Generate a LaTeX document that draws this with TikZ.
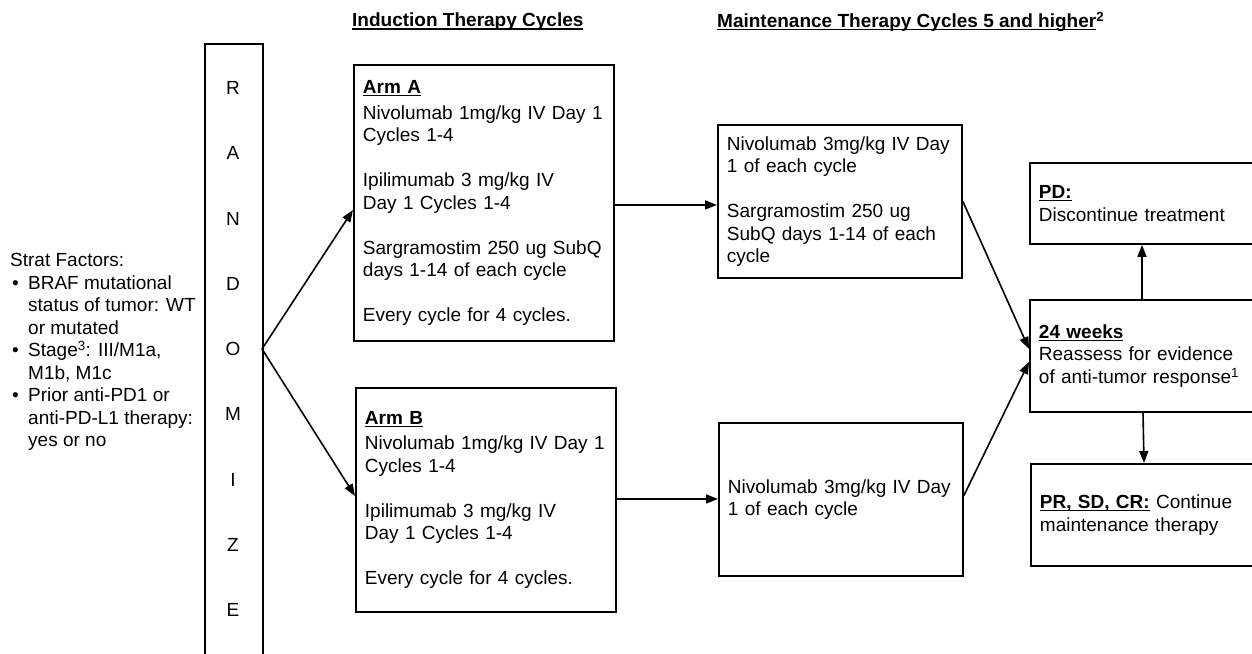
\documentclass[tikz,border=0pt]{standalone}
\usepackage{fontspec}
\setmainfont{Liberation Sans}
\usetikzlibrary{arrows.meta}
\newsavebox\ulbox
\newcommand\ulx[1]{\sbox\ulbox{#1}\rlap{\rule[-2.6pt]{\wd\ulbox}{1.3pt}}\usebox\ulbox}
\newcommand\fs{\fontsize{19}{22.5}\selectfont}
\newcommand\bul{\hspace*{2pt}\makebox[16pt][l]{•}}
\newcommand\ind{\hspace*{18pt}}
\begin{document}
\begin{tikzpicture}[x=1pt,y=-1pt,
  box/.style={draw, line width=1.9pt, anchor=north west, align=left, inner xsep=9pt, inner ysep=0pt, font=\fs},
  arr/.style={line width=1.6pt, -{Triangle[length=12pt,width=9pt]}},
  hd/.style={anchor=west, inner sep=0pt, font=\fs\bfseries}]
\useasboundingbox (0,0) rectangle (1252,653);

% headings
\node[hd] (t1) at (352,22) {\ulx{Induction Therapy Cycles}};
\node[hd] (t2) at (717,22) {\ulx{Maintenance Therapy Cycles 5 and higher}\textsuperscript{2}};

% randomize column
\node[draw, line width=1.9pt, anchor=north west, minimum width=58pt, minimum height=700pt, inner sep=0pt] (rand) at (204,43) {};
\foreach \l [count=\i from 0] in {R,A,N,D,O,M,I,Z,E}
  \node[font=\fs, inner sep=0pt] (r\i) at (233, 88+65.25*\i) {\l};

% strat factors
\node[anchor=west, inner sep=0pt, align=left, font=\fs] (strat) at (10,352)
  {Strat Factors:\\
   \bul BRAF mutational\\
   \ind status of tumor: WT\\
   \ind or mutated\\
   \bul Stage\textsuperscript{3}: III/M1a,\\
   \ind M1b, M1c\\
   \bul Prior anti-PD1 or\\
   \ind anti-PD-L1 therapy:\\
   \ind yes or no};

% induction arms
\node[box, text width=242pt, minimum height=276pt] (armA) at (353,64)
  {\textbf{\ulx{Arm A}}\\[3pt]
   Nivolumab 1mg/kg IV Day 1\\
   Cycles 1-4\\[22.5pt]
   Ipilimumab 3 mg/kg IV\\
   Day 1 Cycles 1-4\\[22.5pt]
   Sargramostim 250 ug SubQ\\
   days 1-14 of each cycle\\[22.5pt]
   Every cycle for 4 cycles.};
\node[box, text width=242pt, minimum height=224pt] (armB) at (355,387)
  {\textbf{\ulx{Arm B}}\\[3pt]
   Nivolumab 1mg/kg IV Day 1\\
   Cycles 1-4\\[22.5pt]
   Ipilimumab 3 mg/kg IV\\
   Day 1 Cycles 1-4\\[22.5pt]
   Every cycle for 4 cycles.};

% maintenance
\node[box, text width=226pt, minimum height=153pt] (maintA) at (717,124)
  {Nivolumab 3mg/kg IV Day\\
   1 of each cycle\\[22.5pt]
   Sargramostim 250 ug\\
   SubQ days 1-14 of each\\
   cycle};
\node[box, text width=226pt, minimum height=153pt] (maintB) at (718,422)
  {Nivolumab 3mg/kg IV Day\\
   1 of each cycle};

% outcome boxes (run past the right edge of the page)
\node[box, text width=262pt, minimum height=81pt] (pd) at (1029,162)
  {\textbf{\ulx{PD:}}\\
   Discontinue treatment};
\node[box, text width=262pt, minimum height=112pt] (wk) at (1029,299)
  {\textbf{\ulx{24 weeks}}\\
   Reassess for evidence\\
   of anti-tumor response\textsuperscript{1}};
\node[box, text width=262pt, minimum height=102pt] (pr) at (1030,463)
  {\textbf{\ulx{PR, SD, CR:}} Continue\\
   maintenance therapy};

% connectors
\coordinate (split) at (262,349);
\draw[arr] (split) -- ([yshift=-7pt]armA.west);
\draw[arr] (split) -- ([yshift=4pt]armB.west);
\draw[arr] ([yshift=-2pt]armA.east) -- ([yshift=-2pt]armA.east -| maintA.west);
\draw[arr] ([yshift=1pt]armB.east) -- ([yshift=1pt]armB.east -| maintB.west);
\draw[arr] (maintA.east) -- ([yshift=7pt]wk.west);
\draw[arr] ([yshift=4pt]maintB.east) -- ([yshift=-6pt]wk.west);
\draw[arr] ([xshift=113pt]wk.north west) -- ([xshift=113pt]pd.south west);
\draw[arr] ([xshift=114pt]wk.south west) -- ([xshift=114pt]pr.north west);
\end{tikzpicture}
\end{document}
